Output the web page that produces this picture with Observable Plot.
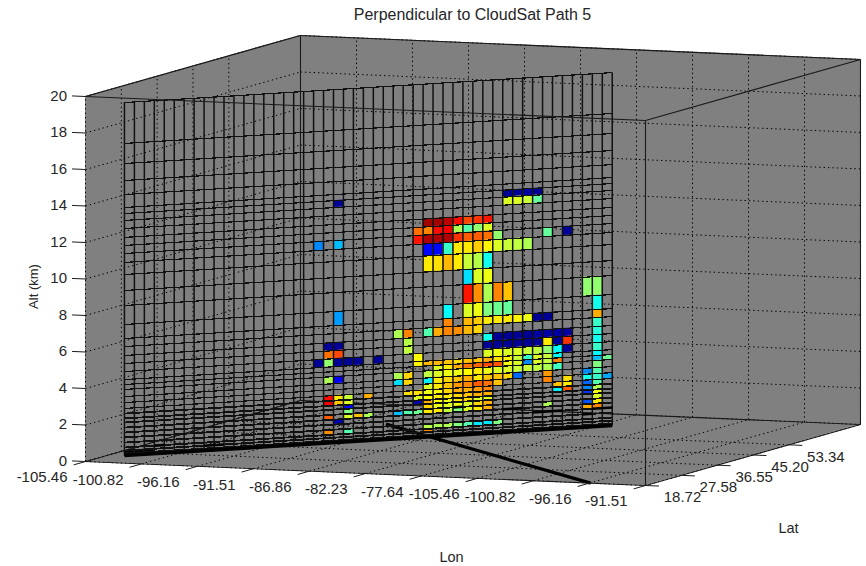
<!DOCTYPE html>
<html><head><meta charset="utf-8">
<style>html,body{margin:0;padding:0;background:#fff}svg{display:block}</style>
<script src="https://cdn.jsdelivr.net/npm/d3@7"></script>
<script src="https://cdn.jsdelivr.net/npm/@observablehq/plot@0.6"></script>
</head><body>
<script>
const title = "Perpendicular to CloudSat Path 5";
const lonTickLabels = ["-105.46","-100.82","-96.16","-91.51","-86.86","-82.23","-77.64","-105.46","-100.82","-96.16","-91.51"];
const latTickLabels = ["18.72","27.58","36.55","45.20","53.34"];
const altTicks = [0,2,4,6,8,10,12,14,16,18,20];
const latGridCount = 6;
// Model level boundaries along the curtain, km, top to bottom
const altLevels = [19.34,17.10,16.00,15.07,14.30,13.59,13.26,12.88,12.44,11.95,11.51,11.07,10.58,9.92,9.04,8.22,7.18,6.41,5.97,5.48,5.04,4.60,4.16,3.89,3.62,3.23,2.90,2.58,2.30,2.03,1.81,1.53,1.26,0.99,0.71,0.44,0.27,0.11,0];
const curtainCols = 49;
const curtainStart = [0.277,0.654], curtainEnd = [6.207,5.0];
const trackStart = [9.02,0], trackEnd = [2.62,4.29];
// [row, {col: value}] : value on a 0-1 jet scale
const cellRows = [
[6,{21:.02,38:.02,39:.02,40:.03,41:.02}],
[7,{38:.6,39:.6,40:.58,41:.47}],
[9,{30:.97,31:.97,32:.95,33:.88,34:.82,35:.84,36:.87}],
[10,{29:.78,30:.76,31:.88,32:.9,33:.55,34:.45,35:.52,36:.6}],
[11,{19:.25,21:.3,29:.87,30:.96,31:.96,32:.96,33:.84,34:.8,35:.8,36:.78,37:.52,42:.47,44:.02}],
[12,{30:.13,31:.13,32:.42,33:.66,34:.66,35:.69,36:.65,37:.6,38:.58,39:.57,40:.55}],
[13,{30:.66,31:.67,32:.71,33:.66,34:.58,35:.56,36:.38}],
[14,{34:.33,35:.6,36:.62}],
[15,{34:.87,35:.75,36:.55,37:.76,38:.7,46:.52,47:.52}],
[16,{21:.27,32:.36,34:.6,35:.62,36:.5,37:.48,38:.47,47:.38}],
[17,{32:.76,34:.71,35:.69,36:.66,37:.66,38:.66,39:.65,40:.62,41:.02,42:.02,47:.72}],
[18,{27:.55,28:.76,30:.45,31:.72,32:.76,33:.75,34:.71,35:.68,47:.42}],
[19,{20:.02,21:.02,28:.56,36:.38,37:.02,38:.02,39:.02,40:.02,41:.03,42:.03,43:.03,44:.03,47:.4}],
[20,{20:.78,21:.82,28:.57,36:.02,37:.02,38:.02,39:.02,40:.02,41:.02,42:.66,43:.02,44:.84,47:.38}],
[21,{19:.02,20:.52,21:.02,22:.02,23:.02,25:.02,29:.64,36:.6,37:.62,38:.6,39:.6,40:.58,41:.57,42:.52,43:.36,44:.02,47:.42}],
[22,{29:.65,30:.71,31:.71,32:.7,33:.67,34:.7,35:.7,36:.72,37:.67,38:.65,39:.58,40:.42,41:.6,42:.58,43:.36,47:.36}],
[23,{31:.6,32:.66,33:.72,34:.78,35:.79,36:.82,37:.81,38:.63,39:.6,40:.25,41:.6,42:.57,43:.76,47:.3,48:.48}],
[24,{20:.55,21:.1,27:.55,28:.68,30:.57,31:.6,32:.62,33:.62,34:.64,35:.66,36:.62,37:.6,38:.6,39:.58,40:.58,41:.57,42:.55,43:.43,47:.5}],
[25,{27:.33,28:.68,30:.35,31:.66,32:.68,33:.7,34:.72,35:.66,36:.7,37:.7,38:.68,39:.22,42:.74,46:.25,47:.45}],
[26,{30:.6,31:.66,32:.7,33:.74,34:.76,35:.8,36:.78,37:.7,42:.76,44:.67,46:.38,47:.42,48:.28}],
[27,{20:.88,21:.66,22:.58,24:.72,28:.67,29:.67,30:.62,31:.64,32:.68,33:.72,34:.72,35:.74,36:.76,43:.7,44:.66,46:.22,47:.45}],
[28,{20:.9,21:.7,22:.6,29:.6,30:.64,31:.66,32:.66,33:.68,34:.7,35:.72,36:.72,43:.35,44:.8,46:.25,47:.55}],
[29,{22:.12,29:.04,30:.72,31:.64,32:.62,33:.66,34:.68,35:.6,36:.6,46:.17,47:.62}],
[30,{22:.5,30:.68,31:.62,32:.6,33:.62,34:.6,35:.68,36:.72,47:.6}],
[31,{20:.8,22:.6,23:.7,24:.55,27:.3,28:.45,29:.48,30:.66,31:.66,32:.58,33:.5,34:.6,35:.66,36:.72,42:.55,46:.2,47:.66}],
[32,{21:.04,46:.72,47:.76}],
[34,{20:.75,22:.45,30:.56,31:.55,32:.55,33:.5,34:.45,35:.34,36:.34,37:.5}],
[35,{30:.76}],
[37,{27:.66,28:.68,29:.68,31:.66,44:.82}]
];
const blackCells = [[36,0],[36,1],[36,2]];
// [level index, first column, last column] of the dark terrain dashes
const darkDashes = [[31,33,34],[32,38,40],[33,41,44],[33,47,49],[34,46,47],[35,3,4],[36,8,10]];
const jetStops = [0,.11,.125,.36,.5,.64,.89,1];
const jetColors = ["#000080","#0000ff","#0000ff","#00ffff","#80ff80","#ffff00","#ff0000","#800000"];

// oblique view of the axes box: lon and lat in tick steps, alt in km
const project = ([lon,lat,alt]) => [85+56*lon+35.83*lat, 461+2.4*lon-10.17*lat-18.25*alt];
const seg = (a,b) => { const p=project(a), q=project(b); return {x1:p[0],y1:p[1],x2:q[0],y2:q[1]}; };
const lonMax = lonTickLabels.length-1, altMax = d3.max(altTicks);

const face = (id,a,b,c,d) => {const s=seg(a,b),t=seg(c,d);return [{id,x1:s.x1,y1:s.y1,x2:t.x1,y2:t.y1},{id,x1:s.x2,y1:s.y2,x2:t.x2,y2:t.y2}];};
const walls = [
 ...face("floor",[0,0,0],[lonMax,0,0],[0,latGridCount,0],[lonMax,latGridCount,0]),
 ...face("left",[0,0,0],[0,latGridCount,0],[0,0,altMax],[0,latGridCount,altMax]),
 ...face("back",[0,latGridCount,0],[lonMax,latGridCount,0],[0,latGridCount,altMax],[lonMax,latGridCount,altMax])
];
const dotted = [];
for (let k=0;k<=lonMax;k++){ dotted.push(seg([k,0,0],[k,latGridCount,0]), seg([k,latGridCount,0],[k,latGridCount,altMax])); }
latTickLabels.forEach((_,j)=>{ dotted.push(seg([0,j,0],[lonMax,j,0]), seg([0,j,0],[0,j,altMax])); });
altTicks.forEach(a=>{ dotted.push(seg([0,0,a],[0,latGridCount,a]), seg([0,latGridCount,a],[lonMax,latGridCount,a])); });
const L=lonMax, T=latGridCount, A=altMax;
const boxBack = [seg([0,0,0],[0,T,0]),seg([0,T,0],[L,T,0]),seg([0,T,0],[0,T,A]),seg([0,T,A],[L,T,A]),seg([0,0,A],[0,T,A]),seg([L,T,0],[L,T,A]),seg([L,T,A],[L,0,A])];
const boxFront = [seg([0,0,0],[L,0,0]),seg([L,0,0],[L,T,0]),seg([L,0,0],[L,0,A]),seg([0,0,A],[L,0,A])];
const track = [seg([...trackStart,0],[...trackEnd,0])];
const colPos = c => { const t=c/curtainCols; return [curtainStart[0]+(curtainEnd[0]-curtainStart[0])*t, curtainStart[1]+(curtainEnd[1]-curtainStart[1])*t]; };
const curtainV=[], curtainUpper=[], curtainLower=[];
for (let c=0;c<=curtainCols;c++) curtainV.push(seg([...colPos(c),0],[...colPos(c),altLevels[0]]));
altLevels.forEach(a=>(a>2.4?curtainUpper:curtainLower).push(seg([...colPos(0),a],[...colPos(curtainCols),a])));
const base = [seg([...colPos(0),0],[...colPos(curtainCols),0])];
const dashes = darkDashes.map(([r,a,b])=>seg([...colPos(a),altLevels[r]],[...colPos(b),altLevels[r]]));
const cellPts = (r,c,v,id) => { const s=seg([...colPos(c),altLevels[r]],[...colPos(c+1),altLevels[r]]), t=seg([...colPos(c),altLevels[r+1]],[...colPos(c+1),altLevels[r+1]]);
  return [{id,v,x:s.x1,y1:s.y1,y2:t.y1},{id,v,x:s.x2,y1:s.y2,y2:t.y2}]; };
const colored=[]; cellRows.forEach(([r,o])=>Object.entries(o).forEach(([c,v])=>colored.push(...cellPts(r,+c,v,r+"_"+c))));
const black=[]; blackCells.forEach(([r,c])=>black.push(...cellPts(r,c,0,r+"_"+c)));

const lonT = lonTickLabels.map((t,k)=>{const s=seg([k,0,0],[k,-0.33,0]);return {...s,t};});
const latT = latTickLabels.map((t,j)=>{const s=seg([L,j,0],[L+0.24,j,0]);return {...s,t};});
const altT = altTicks.map(a=>{const s=seg([0,0,a],[-0.24,0,a]);return {...s,t:String(a)};});
const font = "Liberation Sans, Arial, sans-serif", tc="#262626";

const chart = Plot.plot({
 width:866,height:566,margin:0,
 x:{domain:[0,866],range:[0,866],axis:null},
 y:{domain:[0,566],range:[0,566],axis:null},
 color:{type:"linear",domain:jetStops,range:jetColors},
 style:{background:"#fff",fontFamily:font},
 marks:[
  Plot.area(walls,{x1:"x1",y1:"y1",x2:"x2",y2:"y2",z:"id",fill:"#808080",curve:"linear"}),
  Plot.link(dotted,{x1:"x1",y1:"y1",x2:"x2",y2:"y2",stroke:"#000",strokeWidth:1,strokeDasharray:"1.4,3"}),
  Plot.link(boxBack,{x1:"x1",y1:"y1",x2:"x2",y2:"y2",stroke:"#1a1a1a",strokeWidth:1.1}),
  Plot.link(track,{x1:"x1",y1:"y1",x2:"x2",y2:"y2",stroke:"#000",strokeWidth:3.2}),
  Plot.area(colored,{x1:"x",x2:"x",y1:"y1",y2:"y2",z:"id",fill:"v",curve:"linear"}),
  Plot.area(black,{x1:"x",x2:"x",y1:"y1",y2:"y2",z:"id",fill:"#000",curve:"linear"}),
  Plot.link(curtainV,{x1:"x1",y1:"y1",x2:"x2",y2:"y2",stroke:"#111",strokeWidth:1.5}),
  Plot.link(curtainUpper,{x1:"x1",y1:"y1",x2:"x2",y2:"y2",stroke:"#111",strokeWidth:1.2,shapeRendering:"crispEdges"}),
  Plot.link(curtainLower,{x1:"x1",y1:"y1",x2:"x2",y2:"y2",stroke:"#111",strokeWidth:1.8,shapeRendering:"crispEdges"}),
  Plot.link(dashes,{x1:"x1",y1:"y1",x2:"x2",y2:"y2",stroke:"#000",strokeWidth:2.6}),
  Plot.link(base,{x1:"x1",y1:"y1",x2:"x2",y2:"y2",stroke:"#000",strokeWidth:3.6}),
  Plot.link(boxFront,{x1:"x1",y1:"y1",x2:"x2",y2:"y2",stroke:"#1a1a1a",strokeWidth:1.1}),
  Plot.link(lonT,{x1:"x1",y1:"y1",x2:"x2",y2:"y2",stroke:"#1a1a1a"}),
  Plot.link(latT,{x1:"x1",y1:"y1",x2:"x2",y2:"y2",stroke:"#1a1a1a"}),
  Plot.link(altT,{x1:"x1",y1:"y1",x2:"x2",y2:"y2",stroke:"#1a1a1a"}),
  Plot.text(lonT,{x:"x1",y:"y1",text:"t",textAnchor:"end",dx:-18,dy:16,fontSize:15,fill:tc}),
  Plot.text(latT,{x:"x1",y:"y1",text:"t",textAnchor:"middle",dx:37,dy:12,fontSize:15,fill:tc}),
  Plot.text(altT,{x:"x2",y:"y2",text:"t",textAnchor:"end",dx:-5,dy:0,fontSize:15,fill:tc}),
  Plot.text([title],{x:()=>472,y:()=>14,text:d=>d,fontSize:16,fill:tc}),
  Plot.text(["Lon"],{x:()=>451,y:()=>557,text:d=>d,fontSize:14.5,fill:tc}),
  Plot.text(["Lat"],{x:()=>788,y:()=>528,text:d=>d,fontSize:14.5,fill:tc}),
  Plot.text(["Alt (km)"],{x:()=>33,y:()=>286,text:d=>d,fontSize:13,rotate:-90,fill:tc})
 ]
});
document.body.appendChild(chart);
</script>
</body></html>
